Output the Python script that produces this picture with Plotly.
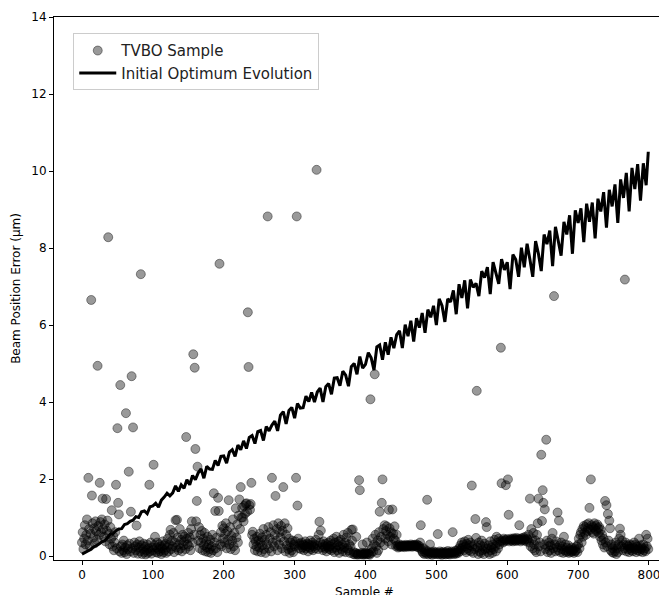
import plotly.graph_objects as go

# TVBO sample beam-position error (um), one value per sample index 0..799
sample_y = [
    # 0-49
    0.35, 0.62, 0.18, 0.45, 0.80, 0.30, 0.55, 0.95, 0.40, 2.03,
    0.70, 0.25, 0.58, 6.65, 1.57, 0.85, 0.48, 0.72, 0.33, 0.90,
    0.65, 0.42, 4.94, 0.78, 0.55, 1.90, 0.88, 0.62, 0.95, 1.49,
    0.70, 0.50, 0.82, 0.38, 1.48, 0.66, 0.92, 8.28, 0.58, 0.30,
    0.75, 0.45, 1.19, 0.25, 0.52, 0.15, 0.35, 0.62, 1.85, 0.20,
    # 50-99
    3.32, 1.38, 1.08, 0.12, 4.44, 0.25, 0.08, 0.30, 0.15, 0.40,
    0.10, 0.22, 3.71, 0.05, 0.28, 0.18, 2.19, 0.32, 0.12, 1.15,
    4.67, 0.20, 3.34, 0.08, 0.35, 0.25, 0.15, 0.79, 0.30, 0.06,
    0.22, 0.38, 0.12, 7.32, 0.28, 0.05, 0.18, 0.32, 0.10, 0.24,
    0.04, 0.15, 0.30, 0.08, 0.20, 1.85, 0.12, 0.35, 0.06, 0.22,
    # 100-149
    0.15, 2.37, 0.28, 0.50, 0.10, 0.22, 0.35, 0.08, 0.18, 0.30,
    0.12, 0.25, 0.05, 0.20, 0.38, 0.10, 0.28, 0.15, 0.32, 0.08,
    0.22, 0.45, 0.12, 0.30, 0.55, 0.68, 0.18, 0.40, 0.25, 0.60,
    0.10, 0.35, 0.93, 0.22, 0.94, 0.48, 0.15, 0.30, 0.70, 0.20,
    0.42, 0.12, 0.55, 0.28, 0.38, 0.50, 0.18, 3.09, 0.45, 0.30,
    # 150-199
    0.60, 0.25, 0.48, 0.15, 0.70, 0.90, 0.35, 5.24, 0.55, 4.89,
    2.78, 0.90, 1.43, 2.32, 0.40, 0.75, 0.20, 0.55, 0.35, 0.65,
    0.15, 0.45, 0.28, 0.60, 0.12, 0.38, 0.22, 0.50, 0.10, 0.30,
    0.18, 0.42, 0.08, 0.25, 0.55, 0.15, 1.63, 0.35, 1.17, 0.20,
    0.48, 0.10, 1.51, 1.17, 7.59, 0.30, 0.62, 0.25, 0.78, 0.45,
    # 200-249
    0.72, 0.35, 0.58, 0.85, 0.20, 0.65, 0.42, 1.45, 0.30, 0.75,
    0.18, 0.52, 0.40, 0.95, 0.25, 0.60, 0.15, 1.24, 0.48, 0.82,
    0.35, 1.05, 1.47, 0.70, 1.79, 1.00, 1.25, 1.00, 0.90, 1.30,
    1.10, 1.35, 1.37, 1.15, 6.33, 4.91, 1.32, 1.20, 1.35, 1.90,
    0.55, 0.63, 0.30, 0.45, 0.15, 0.38, 0.25, 0.50, 0.12, 0.40,
    # 250-299
    0.22, 0.58, 0.35, 0.10, 0.48, 0.28, 0.70, 0.18, 0.42, 0.08,
    0.55, 0.30, 8.82, 0.75, 0.20, 0.45, 0.62, 0.12, 2.03, 0.35,
    0.80, 0.25, 0.55, 1.56, 0.40, 0.70, 0.15, 0.85, 0.30, 0.62,
    0.48, 0.78, 0.20, 0.65, 1.79, 0.38, 0.85, 0.12, 0.55, 0.28,
    0.72, 0.18, 0.45, 0.08, 0.35, 0.22, 0.15, 0.40, 0.10, 0.30,
    # 300-349
    0.25, 0.38, 2.03, 8.82, 1.31, 0.45, 0.20, 0.32, 0.28, 0.18,
    0.35, 0.22, 0.30, 0.15, 0.28, 0.38, 0.20, 0.25, 0.32, 0.12,
    0.30, 0.22, 0.40, 0.18, 0.28, 0.35, 0.15, 0.25, 0.30, 0.20,
    0.42, 10.03, 0.28, 0.18, 0.55, 0.89, 0.35, 0.66, 0.22, 0.30,
    0.15, 0.38, 0.25, 0.20, 0.32, 0.12, 0.28, 0.22, 0.35, 0.18,
    # 350-399
    0.25, 0.40, 0.15, 0.30, 0.20, 0.45, 0.10, 0.35, 0.22, 0.50,
    0.15, 0.28, 0.38, 0.08, 0.25, 0.42, 0.18, 0.30, 0.12, 0.55,
    0.22, 0.35, 0.10, 0.48, 0.20, 0.60, 0.15, 0.30, 0.08, 0.25,
    0.68, 0.40, 0.69, 0.05, 0.10, 0.04, 0.08, 0.50, 0.05, 0.03,
    0.06, 1.97, 1.71, 0.04, 0.08, 0.05, 0.30, 0.03, 0.07, 0.05,
    # 400-449
    0.08, 0.04, 0.35, 0.06, 0.10, 0.05, 0.03, 4.07, 0.08, 0.20,
    0.45, 0.12, 0.30, 4.72, 0.55, 0.25, 0.08, 0.40, 0.15, 0.62,
    1.15, 0.35, 0.50, 1.38, 1.99, 0.70, 0.28, 0.80, 0.45, 0.65,
    0.77, 0.55, 0.38, 1.20, 0.72, 0.50, 0.62, 0.30, 1.21, 0.58,
    0.45, 0.77, 0.40, 0.25, 0.55, 0.28, 0.22, 0.25, 0.30, 0.24,
    # 450-499
    0.26, 0.24, 0.28, 0.25, 0.27, 0.23, 0.26, 0.29, 0.25, 0.27,
    0.24, 0.28, 0.26, 0.25, 0.30, 0.27, 0.24, 0.28, 0.26, 0.29,
    0.25, 0.27, 0.30, 0.24, 0.28, 0.22, 0.26, 0.35, 0.80, 0.18,
    0.12, 0.08, 0.20, 0.05, 0.10, 0.15, 0.06, 1.46, 0.12, 0.04,
    0.08, 0.30, 0.06, 0.10, 0.03, 0.08, 0.12, 0.05, 0.09, 0.06,
    # 500-549
    0.10, 0.05, 0.57, 0.08, 0.04, 0.12, 0.06, 0.09, 0.03, 0.07,
    0.11, 0.05, 0.08, 0.04, 0.10, 0.06, 0.13, 0.05, 0.08, 0.04,
    0.09, 0.12, 0.06, 0.62, 0.10, 0.05, 0.08, 0.14, 0.06, 0.10,
    0.15, 0.08, 0.20, 0.12, 0.28, 0.18, 0.35, 0.22, 0.30, 0.15,
    0.38, 0.25, 0.10, 0.32, 0.20, 0.42, 0.15, 0.28, 0.35, 0.12,
    # 550-599
    1.83, 0.25, 0.08, 0.30, 0.18, 0.96, 0.47, 4.29, 0.22, 0.05,
    0.35, 0.12, 0.28, 0.08, 0.40, 0.15, 0.25, 0.05, 0.32, 0.18,
    0.88, 0.75, 0.20, 0.10, 0.28, 0.05, 0.38, 0.15, 0.22, 0.08,
    0.30, 0.18, 0.42, 0.25, 0.12, 0.50, 0.35, 0.20, 0.45, 0.30,
    0.38, 5.41, 1.89, 0.40, 0.35, 0.45, 0.38, 0.42, 1.84, 0.40,
    # 600-649
    0.44, 1.99, 1.07, 0.38, 0.42, 0.45, 0.40, 0.43, 0.38, 0.46,
    0.41, 0.44, 0.39, 0.47, 0.42, 0.40, 0.45, 0.80, 0.43, 0.38,
    0.46, 0.41, 0.44, 0.48, 0.40, 0.43, 0.50, 0.38, 0.45, 0.42,
    0.55, 0.35, 1.49, 0.25, 0.70, 0.45, 0.20, 0.60, 0.30, 0.15,
    0.40, 0.10, 0.55, 0.85, 1.49, 0.25, 0.35, 0.12, 2.63, 0.91,
    # 650-699
    1.71, 1.38, 0.30, 1.21, 0.18, 3.02, 0.40, 0.10, 0.25, 0.35,
    0.15, 0.28, 0.08, 0.45, 0.60, 0.20, 6.75, 0.30, 0.12, 0.38,
    0.22, 1.13, 0.15, 0.92, 0.28, 0.10, 0.35, 0.18, 0.25, 0.08,
    0.50, 0.15, 0.30, 0.10, 0.22, 0.12, 0.28, 0.08, 0.18, 0.14,
    0.10, 0.22, 0.12, 0.16, 0.08, 0.20, 0.12, 0.15, 0.25, 0.10,
    # 700-749
    0.30, 0.45, 0.20, 0.55, 0.62, 0.35, 0.70, 0.50, 0.78, 0.60,
    0.75, 0.55, 0.82, 0.65, 0.72, 0.85, 1.25, 0.68, 1.99, 0.80,
    0.62, 0.75, 0.58, 0.85, 0.70, 0.78, 0.65, 0.82, 0.72, 0.60,
    0.75, 0.50, 0.68, 0.40, 0.55, 0.30, 0.45, 0.22, 1.43, 0.35,
    1.32, 0.25, 1.09, 0.40, 0.92, 0.72, 0.15, 0.30, 0.10, 0.20,
    # 750-799
    0.08, 0.25, 0.12, 0.35, 0.05, 0.20, 0.10, 0.30, 0.45, 0.71,
    0.55, 0.25, 0.40, 0.15, 0.30, 0.20, 7.18, 0.35, 0.12, 0.28,
    0.18, 0.25, 0.10, 0.30, 0.20, 0.15, 0.28, 0.12, 0.22, 0.35,
    0.18, 0.30, 0.10, 0.25, 0.15, 0.20, 0.45, 0.12, 0.28, 0.18,
    0.22, 0.10, 0.30, 0.15, 0.20, 0.12, 0.55, 0.25, 0.45, 0.18,
]
sample_x = list(range(len(sample_y)))

# Initial optimum evolution, read every 4 samples (plus final sample)
evo_x = list(range(0, 800, 4)) + [799]
evo_y = [
    0.05, 0.09, 0.11, 0.17, 0.23, 0.26, 0.31, 0.37, 0.39, 0.48,
    0.57, 0.58, 0.66, 0.70, 0.71, 0.82, 0.84, 0.90, 0.93, 1.02,
    1.00, 1.15, 1.17, 1.10, 1.28, 1.30, 1.37, 1.27, 1.45, 1.53,
    1.63, 1.56, 1.64, 1.82, 1.68, 1.85, 1.76, 1.98, 1.85, 2.09,
    1.98, 2.16, 2.26, 2.02, 2.33, 2.26, 2.25, 2.48, 2.35, 2.59,
    2.60, 2.41, 2.70, 2.76, 2.59, 2.88, 2.76, 2.99, 2.79, 3.08,
    3.13, 2.92, 3.23, 3.26, 3.00, 3.36, 3.25, 3.40, 3.50, 3.25,
    3.66, 3.75, 3.43, 3.78, 3.86, 3.58, 3.96, 3.84, 3.85, 4.15,
    4.01, 4.25, 4.00, 4.26, 4.36, 4.00, 4.40, 4.48, 4.20, 4.62,
    4.63, 4.42, 4.80, 4.70, 4.41, 4.92, 5.00, 4.72, 5.18, 4.88,
    4.98, 5.28, 5.15, 4.83, 5.43, 5.48, 5.10, 5.55, 5.23, 5.68,
    5.40, 5.75, 5.85, 5.40, 6.01, 5.71, 6.11, 5.57, 6.18, 5.93,
    6.31, 5.80, 6.40, 6.20, 6.50, 6.00, 6.68, 6.50, 6.08, 6.68,
    6.60, 6.90, 6.28, 7.06, 6.70, 7.16, 6.43, 7.18, 6.98, 7.08,
    6.75, 7.40, 7.23, 7.50, 6.80, 7.63, 7.35, 7.07, 7.71, 7.43,
    7.63, 6.93, 7.83, 7.70, 7.25, 8.01, 7.50, 8.11, 7.70, 7.25,
    8.18, 7.85, 7.40, 8.35, 8.10, 8.45, 7.53, 8.55, 8.18, 7.80,
    8.68, 8.35, 8.85, 7.85, 8.98, 8.65, 9.03, 8.15, 9.15, 8.68,
    9.18, 8.25, 9.28, 8.95, 9.45, 8.53, 9.51, 9.08, 9.65, 8.65,
    9.78, 9.30, 9.95, 8.95, 10.08, 9.53, 10.18, 9.23, 10.20, 9.63,
    10.50,
]

x_ticks = [0, 100, 200, 300, 400, 500, 600, 700, 800]
y_ticks = [0, 2, 4, 6, 8, 10, 12, 14]

FONT = "DejaVu Sans"

fig = go.Figure()
fig.add_trace(go.Scatter(
    x=sample_x, y=sample_y, mode="markers", name="TVBO Sample",
    marker=dict(size=9, color="rgba(0,0,0,0.4)",
                line=dict(width=1, color="rgba(0,0,0,0.4)")),
))
fig.add_trace(go.Scatter(
    x=evo_x, y=evo_y, mode="lines", name="Initial Optimum Evolution",
    line=dict(color="black", width=3),
))

# the page body has an 8px margin, so margins are reduced by 8px to
# place the axes where the reference has them
fig.update_layout(
    width=667, height=595,
    margin=dict(l=46, r=0, t=9, b=43),
    paper_bgcolor="white", plot_bgcolor="white",
    font=dict(family=FONT, size=12, color="black"),
    showlegend=True,
    legend=dict(
        x=0.031, y=0.97, xanchor="left", yanchor="top",
        bgcolor="white", bordercolor="#cccccc", borderwidth=1,
        itemwidth=37,
        font=dict(family=FONT, size=15, color="#222222"),
    ),
    xaxis=dict(
        range=[-39.5, 836.7], tickvals=x_ticks,
        showgrid=False, zeroline=False,
        showline=True, linecolor="black", linewidth=1, mirror=True,
        ticks="outside", ticklen=4, tickcolor="black",
        title=dict(text="Sample #", standoff=6, font=dict(size=12)),
        automargin=False,
    ),
    yaxis=dict(
        range=[-0.104, 14], tickvals=y_ticks,
        showgrid=False, zeroline=False,
        showline=True, linecolor="black", linewidth=1,
        ticks="outside", ticklen=4, tickcolor="black",
        title=dict(text="Beam Position Error (μm)", standoff=8, font=dict(size=12)),
        automargin=False,
    ),
)

fig.write_html("out.html")
